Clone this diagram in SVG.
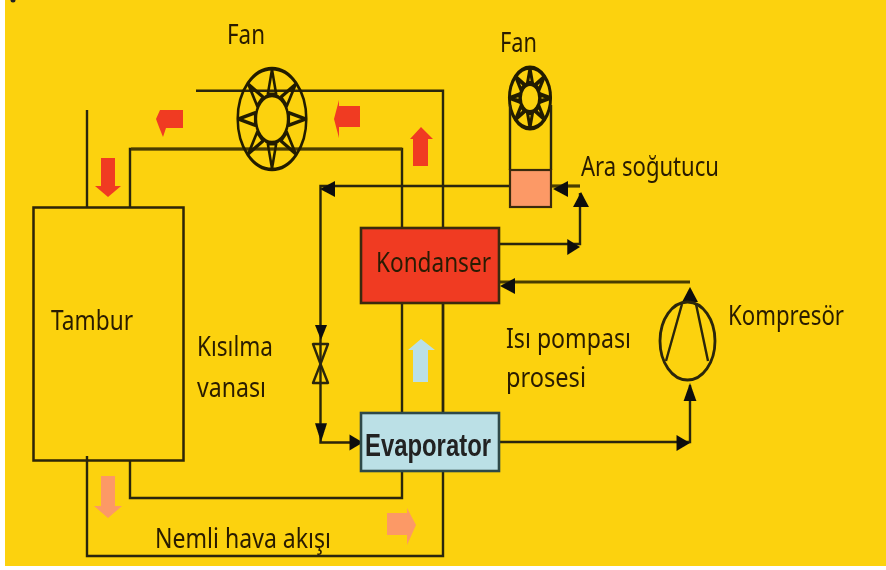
<svg xmlns="http://www.w3.org/2000/svg" width="886" height="570" viewBox="0 0 886 570">
<style>
.l{fill:none;stroke:#2b2508;stroke-width:2.4}
.t{fill:none;stroke:#4a3d05;stroke-width:3.2}
.b{fill:none;stroke:#2b2508;stroke-width:2.5}
.h{fill:#111}
.fs{fill:none;stroke:#241e06;stroke-linejoin:round}
text{font-family:"Noto Sans","DejaVu Sans",sans-serif;font-size:27px;fill:#2a1c05}
</style>
<defs>
<filter id="s" x="-2%" y="-2%" width="104%" height="104%"><feGaussianBlur stdDeviation="0.6"/></filter>
<g id="fan" class="fs">
<circle r="49"/>
<circle r="23"/>
<path id="blade" d="M0-48L6-24H-6Z"/>
<use href="#blade" transform="rotate(45)"/><use href="#blade" transform="rotate(90)"/><use href="#blade" transform="rotate(135)"/><use href="#blade" transform="rotate(180)"/><use href="#blade" transform="rotate(225)"/><use href="#blade" transform="rotate(270)"/><use href="#blade" transform="rotate(315)"/>
</g>
<path id="ah" d="M0 0L-15-8V8Z"/>
</defs>
<rect width="886" height="570" fill="#fff"/>
<rect x="5" y="0" width="881" height="566" fill="#fcd20e"/>
<circle cx="13" cy="0" r="2.500" fill="#222"/>
<g filter="url(#s)">
<g id="connectors">
<path class="l" d="M196 90.700H443V556H87V456"/>
<path class="l" d="M87 110V207"/>
<path class="l" d="M130 207V149H402V228"/>
<path class="t" d="M131 149H402"/>
<path class="l" d="M402 303V413"/>
<path class="l" d="M443 303V413"/>
<path class="l" d="M402 471V498H130V460"/>
<path class="l" d="M510 186H320.500V442.500H362"/>
<path class="t" d="M551 186H580"/>
<path class="l" d="M499 244H580V193"/>
<path class="t" d="M690 282H499"/>
<path class="l" d="M499 442H690V385"/>
<use href="#ah" class="h" transform="translate(320 189) rotate(180)"/>
<use href="#ah" class="h" transform="translate(321 340) rotate(90) scale(1 .75)"/>
<use href="#ah" class="h" transform="translate(321 442) rotate(90) scale(1.25 .75)"/>
<use href="#ah" class="h" transform="translate(363 442.500) scale(.9 1)"/>
<use href="#ah" class="h" transform="translate(553 189) rotate(180)"/>
<use href="#ah" class="h" transform="translate(581 192) rotate(-90)"/>
<use href="#ah" class="h" transform="translate(580 247) scale(.85 1)"/>
<use href="#ah" class="h" transform="translate(500 286) rotate(180)"/>
<use href="#ah" class="h" transform="translate(690 287) rotate(-90)"/>
<use href="#ah" class="h" transform="translate(690 383) rotate(-90) scale(1.2 .8)"/>
<use href="#ah" class="h" transform="translate(690 443) scale(.9 1)"/>
</g>
<g id="flow-arrows">
<path fill="#f03a24" d="M421 127L433 139H428V166H413V139H410Z"/>
<path fill="#f03a24" d="M334 119L339 100V106H360V127H339V138Z"/>
<path fill="#f03a24" d="M156 119L160 110H183V128H166L163 137L159 127Z"/>
<path fill="#f03a24" d="M108 197L95 186H101V158H115V186H121Z"/>
<path fill="#fc9966" d="M108 518L94 506H101V476H115V506H122Z"/>
<path fill="#fc9966" d="M416 525L407 545V535H387V513H407V508Z"/>
<path fill="#bbe0e6" d="M421 339L435 350H428V382H413V350H408Z"/>
</g>
<g id="fan-1">
<use href="#fan" stroke-width="3.600" transform="translate(272 119) scale(.7 1.03)"/>
<text x="227" y="44" textLength="38" lengthAdjust="spacingAndGlyphs">Fan</text>
</g>
<g id="fan-2">
<use href="#fan" stroke-width="7" transform="translate(530 98) scale(.42 .62)"/>
<text x="500" y="52" textLength="37" lengthAdjust="spacingAndGlyphs">Fan</text>
</g>
<g id="ara-sogutucu">
<path class="l" d="M510 105V170M551 105V170"/>
<rect x="510" y="170" width="41" height="37" fill="#fc9966" stroke="#3a2a10" stroke-width="2.200"/>
<text x="581" y="176" textLength="138" lengthAdjust="spacingAndGlyphs">Ara soğutucu</text>
</g>
<g id="tambur">
<rect class="b" x="33.500" y="207.500" width="150" height="253"/>
<text x="51" y="330" textLength="82" lengthAdjust="spacingAndGlyphs">Tambur</text>
</g>
<g id="kondanser">
<rect x="361" y="228" width="138" height="75" fill="#f03a24" stroke="#3a2a10" stroke-width="2.600"/>
<text x="376" y="272" textLength="115" lengthAdjust="spacingAndGlyphs">Kondanser</text>
</g>
<g id="evaporator">
<rect x="361" y="413" width="138" height="58" fill="#bbe0e6" stroke="#2f4a48" stroke-width="2.600"/>
<text x="365" y="456" textLength="126" lengthAdjust="spacingAndGlyphs" style="font-family:'Liberation Sans',sans-serif;font-weight:bold;font-size:32px;fill:#222">Evaporator</text>
</g>
<g id="kisilma-vanasi">
<path d="M313 344H328L320.500 364ZM320.500 364L328 383H313Z" fill="none" stroke="#2b2508" stroke-width="2.400" stroke-linejoin="round"/>
<text x="197" y="356" textLength="76" lengthAdjust="spacingAndGlyphs">Kısılma</text>
<text x="197" y="397" textLength="69" lengthAdjust="spacingAndGlyphs">vanası</text>
</g>
<g id="kompresor">
<ellipse cx="687.500" cy="341" rx="27.500" ry="39" fill="none" stroke="#2b2508" stroke-width="2.800"/>
<path class="l" d="M682 304L666 361M696 304L708 361"/>
<text x="728" y="325" textLength="116" lengthAdjust="spacingAndGlyphs">Kompresör</text>
</g>
<g id="labels">
<text x="506" y="348" textLength="125" lengthAdjust="spacingAndGlyphs">Isı pompası</text>
<text x="506" y="387" textLength="80" lengthAdjust="spacingAndGlyphs">prosesi</text>
<text x="155" y="548" textLength="176" lengthAdjust="spacingAndGlyphs">Nemli hava akışı</text>
</g>
</g>
</svg>
